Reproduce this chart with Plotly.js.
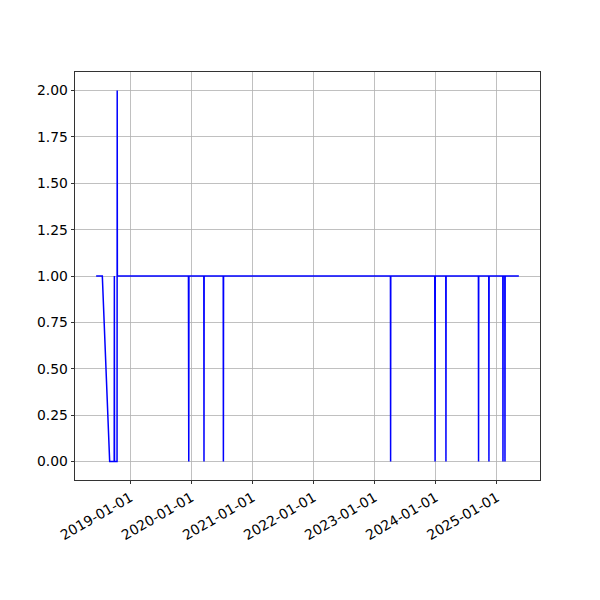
<!DOCTYPE html>
<html>
<head>
<meta charset="utf-8">
<script src="https://cdn.plot.ly/plotly-3.0.1.min.js"></script>
<style>html,body{margin:0;padding:0;background:#fff;}#chart{width:600px;height:600px;}</style>
</head>
<body>
<div id="chart"></div>
<script>
// Early irregular section
const earlyDates = ["2018-06-10","2018-07-17","2018-08-30","2018-09-26","2018-09-27","2018-09-28","2018-10-13","2018-10-14","2018-10-15"];
const earlyValues = [1,1,0,0,1,0,0,2,1];

// One-day drops to 0 (value before/after is 1)
const dropDates = ["2019-12-15","2019-12-16","2020-03-16","2020-07-10","2023-04-06","2023-12-27","2023-12-28","2024-03-02","2024-09-13","2024-11-14","2025-02-06","2025-02-18"];
const dropValue = 0;
const baseValue = 1;
const endDate = "2025-05-12";

const tickVals = ["2019-01-01","2020-01-01","2021-01-01","2022-01-01","2023-01-01","2024-01-01","2025-01-01"];
const yTicks = [0,0.25,0.5,0.75,1,1.25,1.5,1.75,2];

function shift(d, n){
  const t = new Date(d + "T00:00:00Z");
  t.setUTCDate(t.getUTCDate()+n);
  return t.toISOString().slice(0,10);
}

const xs = earlyDates.slice();
const ys = earlyValues.slice();
dropDates.forEach(d => {
  xs.push(shift(d,-1)); ys.push(baseValue);
  xs.push(d); ys.push(dropValue);
  xs.push(shift(d,1)); ys.push(baseValue);
});
xs.push(endDate); ys.push(baseValue);

const t0 = Date.parse(xs[0]), t1 = Date.parse(endDate);
const pad = (t1 - t0) * 0.05;
const xr = [new Date(t0 - pad).toISOString(), new Date(t1 + pad).toISOString()];

const font = {family: "DejaVu Sans", size: 13.9, color: "#000"};

Plotly.newPlot("chart", [{
  x: xs, y: ys, type: "scatter", mode: "lines",
  line: {color: "#0000ff", width: 1.5}, hoverinfo: "skip"
}], {
  width: 600, height: 600,
  margin: {l: 75, r: 60, t: 72, b: 120, pad: 0},
  paper_bgcolor: "#fff", plot_bgcolor: "#fff",
  showlegend: false,
  font: font,
  xaxis: {
    type: "date", range: xr,
    tickvals: tickVals, tickformat: "%Y-%m-%d", tickangle: -30,
    showgrid: true, gridcolor: "#b0b0b0", gridwidth: 0.8,
    showline: true, mirror: true, linecolor: "#000", linewidth: 0.8,
    ticks: "outside", ticklen: 3.5, tickwidth: 0.8, tickcolor: "#000",
    zeroline: false, tickfont: font
  },
  yaxis: {
    range: [-0.1, 2.1],
    tickvals: yTicks, tickformat: ".2f",
    showgrid: true, gridcolor: "#b0b0b0", gridwidth: 0.8,
    showline: true, mirror: true, linecolor: "#000", linewidth: 0.8,
    ticks: "outside", ticklen: 3.5, tickwidth: 0.8, tickcolor: "#000",
    zeroline: false, tickfont: font
  }
}, {staticPlot: true});
</script>
</body>
</html>
